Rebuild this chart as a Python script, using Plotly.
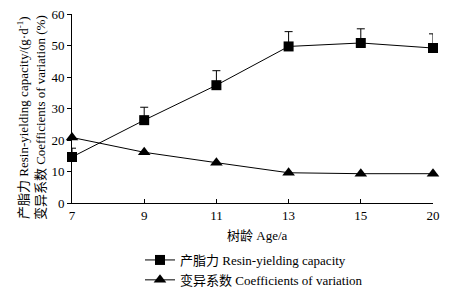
import plotly.graph_objects as go

ages = ["7", "9", "11", "13", "15", "20"]
resin = [14.6, 26.3, 37.4, 49.7, 50.8, 49.2]
resin_err = [2.8, 4.1, 4.6, 4.7, 4.5, 4.5]
cv = [20.8, 16.1, 12.8, 9.6, 9.3, 9.3]
y_ticks = [0, 10, 20, 30, 40, 50, 60]

SERIF = "'Times New Roman', 'Liberation Serif', 'Noto Sans CJK SC', serif"

fig = go.Figure()
fig.add_trace(go.Scatter(
    x=ages, y=resin, mode="lines+markers",
    name="产脂力 Resin-yielding capacity",
    legendgroup="a",
    line=dict(color="black", width=1),
    marker=dict(symbol="square", size=10, color="black"),
    error_y=dict(type="data", symmetric=False, array=resin_err,
                 arrayminus=[0] * len(resin_err), color="black",
                 thickness=1, width=4),
    cliponaxis=False,
))
fig.add_trace(go.Scatter(
    x=ages, y=cv, mode="lines+markers",
    name="变异系数 Coefficients of variation",
    legendgroup="b",
    line=dict(color="black", width=1),
    marker=dict(symbol="triangle-up", size=11, color="black"),
    cliponaxis=False,
))

fig.update_layout(
    width=475, height=294,
    margin=dict(l=72, r=42, t=14, b=91, autoexpand=False),
    paper_bgcolor="white", plot_bgcolor="white",
    font=dict(family=SERIF, size=13, color="black"),
    showlegend=True,
    legend=dict(
        x=140 / 475, xref="container", y=1 - 245 / 294, yref="container",
        xanchor="left", yanchor="top",
        traceorder="grouped", tracegroupgap=0,
        font=dict(family=SERIF, size=13, color="black"),
        bgcolor="rgba(0,0,0,0)", itemwidth=30,
    ),
    xaxis=dict(
        type="category", range=[0, 5],
        showline=True, linecolor="black", linewidth=1,
        ticks="inside", ticklen=4, tickcolor="black",
        showgrid=False, zeroline=False,
        tickfont=dict(family=SERIF, size=13, color="black"),
    ),
    yaxis=dict(
        range=[0, 60], tickvals=y_ticks,
        showline=True, linecolor="black", linewidth=1,
        ticks="outside", ticklen=4, tickcolor="black",
        showgrid=False, zeroline=False,
        tickfont=dict(family=SERIF, size=13, color="black"),
    ),
    annotations=[
        dict(text="产脂力 Resin-yielding capacity/(g·d<sup>-1</sup>)<br>变异系数 Coefficients of variation (%)",
             textangle=-90, xref="paper", yref="paper",
             x=0, xshift=-40.5, y=0.452, showarrow=False,
             xanchor="center", yanchor="middle",
             font=dict(family=SERIF, size=13, color="black")),
        dict(text="树龄 Age/a", xref="paper", yref="paper",
             x=0.5, xshift=5, y=0, yshift=-32, showarrow=False,
             xanchor="center", yanchor="middle",
             font=dict(family=SERIF, size=13, color="black")),
    ],
)

fig.write_html("out.html",
               config={"displayModeBar": False},
               post_script="document.body.style.margin='0';document.body.style.padding='0';")
